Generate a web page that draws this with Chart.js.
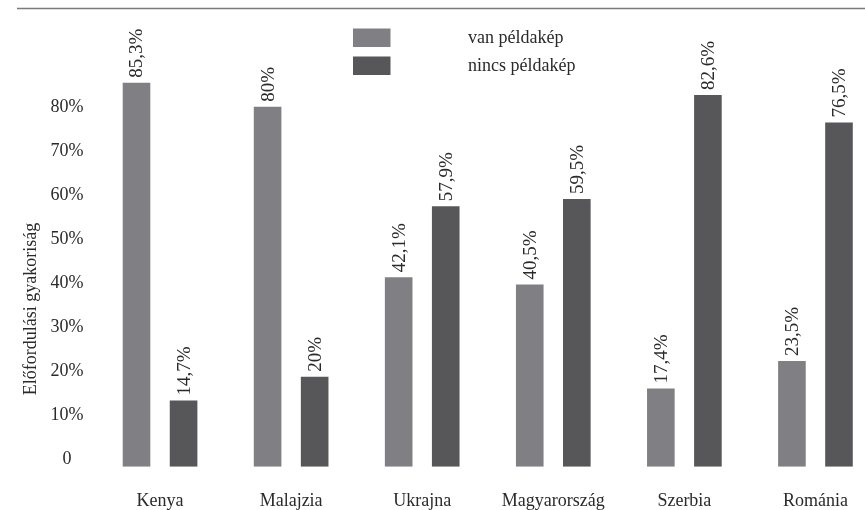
<!DOCTYPE html>
<html>
<head>
<meta charset="utf-8">
<script src="https://cdn.jsdelivr.net/npm/chart.js@4"></script>
<style>
  html, body { margin: 0; padding: 0; background: #fff; overflow: hidden; }
  #wrap { width: 881px; height: 510px; position: relative; }
</style>
</head>
<body>
<div id="wrap"><canvas id="chart"></canvas></div>
<script>
// Data
const countries = ['Kenya', 'Malajzia', 'Ukrajna', 'Magyarország', 'Szerbia', 'Románia'];
const vanPeldakep = [85.3, 80, 42.1, 40.5, 17.4, 23.5];
const nincsPeldakep = [14.7, 20, 57.9, 59.5, 82.6, 76.5];
const yTicks = [0, 10, 20, 30, 40, 50, 60, 70, 80];
const seriesNames = ['van példakép', 'nincs példakép'];

const FONT = '"Liberation Serif", "DejaVu Serif", serif';
const TEXT = '#2a2a2a';
const pct = v => String(v).replace('.', ',') + '%';

// Helpers: top rule, legend, y title, value labels
const decor = {
  id: 'decor',
  afterDraw(chart) {
    const ctx = chart.ctx;
    ctx.save();
    // top rule
    ctx.strokeStyle = '#7a7a7a';
    ctx.lineWidth = 1.5;
    ctx.beginPath();
    ctx.moveTo(17, 8.5);
    ctx.lineTo(chart.width, 8.5);
    ctx.stroke();

    // legend
    ctx.font = '18px ' + FONT;
    ctx.textBaseline = 'middle';
    ctx.textAlign = 'left';
    chart.data.datasets.forEach((ds, i) => {
      const y = 28.5 + i * 28;
      ctx.fillStyle = ds.backgroundColor;
      ctx.fillRect(353, y, 37.5, 18.5);
      ctx.fillStyle = TEXT;
      ctx.fillText(ds.label, 468, y + 10);
    });

    // y axis title
    ctx.translate(31, 309);
    ctx.rotate(-Math.PI / 2);
    ctx.textAlign = 'center';
    ctx.fillText('Előfordulási gyakoriság', 0, 0);
    ctx.restore();

    // value labels
    ctx.save();
    ctx.font = '19px ' + FONT;
    ctx.fillStyle = TEXT;
    ctx.textAlign = 'left';
    ctx.textBaseline = 'middle';
    chart.data.datasets.forEach((ds, i) => {
      chart.getDatasetMeta(i).data.forEach((bar, j) => {
        ctx.save();
        ctx.translate(bar.x + 1, bar.y - 5);
        ctx.rotate(-Math.PI / 2);
        ctx.fillText(pct(ds.data[j]), 0, 0);
        ctx.restore();
      });
    });
    ctx.restore();
  }
};

new Chart(document.getElementById('chart'), {
  type: 'bar',
  data: {
    labels: countries,
    datasets: [
      { label: seriesNames[0], data: vanPeldakep, backgroundColor: '#808084', yAxisID: 'yBars' },
      { label: seriesNames[1], data: nincsPeldakep, backgroundColor: '#57575a', yAxisID: 'yBars' }
    ]
  },
  options: {
    responsive: true, maintainAspectRatio: false,
    animation: false,
    categoryPercentage: 0.718,
    barPercentage: 0.587,
    layout: { padding: { top: 30, left: 0, right: 0, bottom: 0 } },
    plugins: {
      legend: { display: false },
      tooltip: { enabled: false }
    },
    scales: {
      x: {
        grid: { display: false, drawTicks: false },
        border: { display: false },
        afterFit: s => { s.height = 43.3; },
        ticks: { padding: 24, color: TEXT, font: { family: FONT, size: 18 } }
      },
      y: {
        position: 'left',
        min: -1.75, max: 97.5,
        grid: { display: false, drawTicks: false },
        border: { display: false },
        afterBuildTicks: s => { s.ticks = yTicks.map(v => ({ value: v })); },
        afterFit: s => { s.width = 94.5; },
        ticks: {
          padding: 11, crossAlign: 'center', color: TEXT,
          font: { family: FONT, size: 18 },
          callback: v => v === 0 ? '0' : v + '%'
        }
      },
      yBars: {
        display: false,
        min: 0, max: 97.04
      }
    }
  },
  plugins: [decor]
});
</script>
</body>
</html>
